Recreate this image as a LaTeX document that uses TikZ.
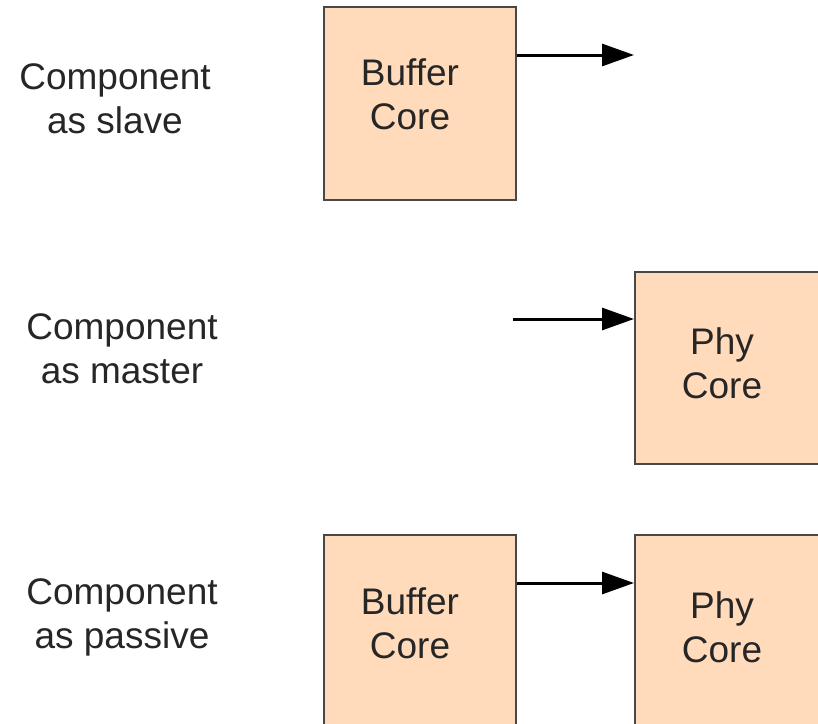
\documentclass[tikz,border=0pt]{standalone}
\usepackage{fontspec}
\setmainfont{Liberation Sans}
\usetikzlibrary{arrows.meta}
\definecolor{corefill}{RGB}{255,218,187}
\definecolor{coreedge}{RGB}{72,72,72}
\tikzset{
  corebox/.style={draw=coreedge, fill=corefill, line width=1.6pt, inner sep=0pt, anchor=north west},
  boxtext/.style={font=\fontsize{37}{44}\selectfont, align=center, anchor=base, inner sep=0pt, text=black!85},
  rolelabel/.style={font=\fontsize{37}{44}\selectfont, align=center, anchor=base, inner sep=0pt, text=black!85},
  link/.style={line width=3pt, -{Triangle[length=32pt,width=22pt]}}
}
\begin{document}
\begin{tikzpicture}[x=1pt,y=-1pt]
\useasboundingbox (0,0) rectangle (818,723);
\clip (0,0) rectangle (818,723);

% role labels on the left (anchored at the baseline of the second line)
\node[rolelabel] (lslave)   at (115,133) {Component\\as slave};
\node[rolelabel] (lmaster)  at (122,383) {Component\\as master};
\node[rolelabel] (lpassive) at (122,648) {Component\\as passive};

% slave row
\node[corebox, minimum width=192pt, minimum height=193pt] (buf1) at (323,6) {};
\node[boxtext] (buf1t) at (410,129) {Buffer\\Core};
\coordinate (out1) at (634,55);
\draw[link] (buf1.east |- out1) -- (out1);

% master row
\node[corebox, minimum width=192pt, minimum height=192pt] (phy2) at (634,271) {};
\node[boxtext] (phy2t) at (722,398) {Phy\\Core};
\coordinate (in2) at (513,319);
\draw[link] (in2) -- (phy2.west |- in2);

% passive row
\node[corebox, minimum width=192pt, minimum height=200pt] (buf3) at (323,534) {};
\node[boxtext] (buf3t) at (410,658) {Buffer\\Core};
\node[corebox, minimum width=192pt, minimum height=200pt] (phy3) at (634,534) {};
\node[boxtext] (phy3t) at (722,662) {Phy\\Core};
\coordinate (mid3) at (0,583);
\draw[link] (buf3.east |- mid3) -- (phy3.west |- mid3);
\end{tikzpicture}
\end{document}
